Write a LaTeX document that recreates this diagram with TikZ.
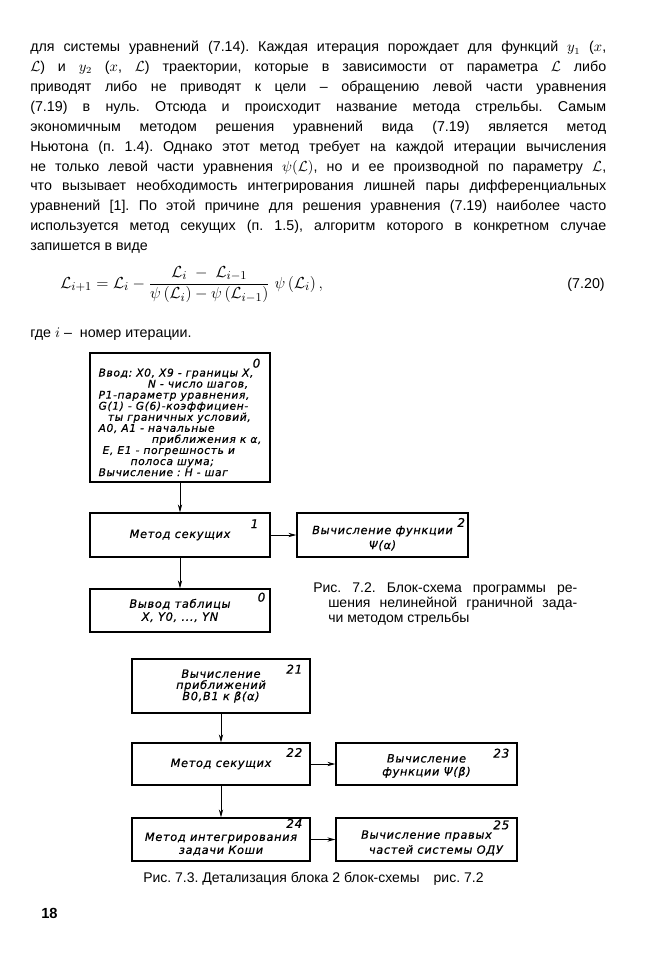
\documentclass[tikz,border=0pt]{standalone}
\usepackage{fontspec}
\usepackage{amsmath}
\setmainfont{Liberation Sans}
\newfontfamily\draftfont[LetterSpace=6, FakeBold=0.6]{DejaVu Sans}
\usetikzlibrary{arrows.meta}
\setlength\parindent{0pt}
\frenchspacing
% strut that pushes the text of a block down
\newcommand\padtop[1]{\rule{0pt}{#1}}

\begin{document}
\begin{tikzpicture}[x=0.75pt, y=-0.75pt,
    box/.style={draw, line width=0.9pt, inner sep=0pt, align=center,
                font=\draftfont\itshape\fontsize{8.5}{9.75}\selectfont},
    num/.style={anchor=north east, inner sep=0pt, xshift=-6pt, yshift=-4pt,
                font=\draftfont\itshape\fontsize{9}{9}\selectfont},
    link/.style={line width=0.7pt, -{Stealth[length=6pt, width=3.2pt]}},
    body/.style={inner sep=0pt, font=\fontsize{10.7}{14.9}\selectfont},
    figcap/.style={inner sep=0pt, font=\fontsize{10.5}{11.25}\selectfont}]
    % Page
    \path[use as bounding box, fill=white] (0,0) rectangle (650,965);

    % Text of the page
    \node[body, text width=432pt, align=justify, anchor=north west] (para) at (30,41) {%
        \hyphenpenalty=10000\exhyphenpenalty=10000
        для системы уравнений (7.14). Каждая итерация порождает для функций $y_1$ ($x$,\linebreak
        $\mathcal{L}$) и $y_2$ ($x$, $\mathcal{L}$) траектории, которые в зависимости от параметра $\mathcal{L}$ либо\linebreak
        приводят либо не приводят к цели – обращению левой части уравнения\linebreak
        (7.19) в нуль. Отсюда и происходит название метода стрельбы. Самым\linebreak
        экономичным методом решения уравнений вида (7.19) является метод\linebreak
        Ньютона (п. 1.4). Однако этот метод требует на каждой итерации вычисления\linebreak
        не только левой части уравнения $\psi(\mathcal{L})$, но и ее производной по параметру $\mathcal{L}$,\linebreak
        что вызывает необходимость интегрирования лишней пары дифференциальных\linebreak
        уравнений [1]. По этой причине для решения уравнения (7.19) наиболее часто\linebreak
        используется метод секущих (п. 1.5), алгоритм которого в конкретном случае\linebreak
        запишется в виде};

    % Formula (7.20)
    \node[inner sep=0pt, anchor=base west, font=\fontsize{12.7}{14}\selectfont] (eq) at (60,288)
        {$\displaystyle \mathcal{L}_{i+1} = \mathcal{L}_i -
          \frac{\mathcal{L}_i \;-\; \mathcal{L}_{i-1}}{\psi\,(\mathcal{L}_i) - \psi\,(\mathcal{L}_{i-1})}\;
          \psi\,(\mathcal{L}_i)\,,$};
    \node[body, anchor=base east] (eqno) at (605,288) {(7.20)};
    \node[body, anchor=base west] (where) at (30,337) {где $i$ –\; номер итерации.};

    % Fig. 7.2
    \node[box, minimum width=135pt, minimum height=96.75pt, align=left,
          font=\draftfont\itshape\fontsize{8}{8.3}\selectfont] (blk0) at (180,417.5) {%
        \padtop{13.3pt}Ввод: X0, X9 - границы X,\\
        \hspace*{37pt}N - число шагов,\\
        P1-параметр уравнения,\\
        G(1) - G(6)-коэффициен-\\
        \hspace*{7pt}ты граничных условий,\\
        A0, A1 - начальные\\
        \hspace*{40pt}приближения к α,\\
        \hspace*{3pt}E, E1 - погрешность и\\
        \hspace*{24pt}полоса шума;\\
        Вычисление : H - шаг};
    \node[num, xshift=-1.5pt, yshift=-0.5pt] (n0) at (blk0.north east) {0};

    \node[box, minimum width=135pt, minimum height=33pt] (blk1) at (180,535) {Метод секущих};
    \node[num, xshift=-3pt, yshift=-1pt] (n1) at (blk1.north east) {1};

    \node[box, minimum width=128.25pt, minimum height=33pt] (blk2) at (382.5,535)
        {\padtop{11pt}Вычисление функции\\[1.5pt]Ψ(α)};
    \node[num, xshift=3.5pt] (n2) at (blk2.north east) {2};

    \node[box, minimum width=135pt, minimum height=32.25pt] (blk3) at (180,610.5)
        {Вывод таблицы\\X, Y0, ..., YN};
    \node[num, xshift=2.25pt, yshift=1pt] (n3) at (blk3.north east) {0};

    \draw[link] (blk0.south) -- (blk1.north);
    \draw[link] (blk1.east) -- (blk2.west);
    \draw[link] (blk1.south) -- (blk3.north);

    \node[figcap, text width=198pt, align=justify, anchor=north west] (cap72) at (313,582) {%
        \hangindent=11.25pt\hangafter=1
        Рис. 7.2. Блок-схема программы ре-\linebreak
        шения нелинейной граничной зада-\linebreak
        чи методом стрельбы\par};

    % Fig. 7.3
    \node[box, minimum width=133.5pt, minimum height=40.5pt,
          font=\draftfont\itshape\fontsize{8.5}{8.4}\selectfont] (blk21) at (221,686)
        {Вычисление\\приближений\\B0,B1 к β(α)};
    \node[num, yshift=-0.5pt] (n21) at (blk21.north east) {21};

    \node[box, minimum width=133.5pt, minimum height=31.5pt] (blk22) at (221,764) {Метод секущих};
    \node[num] (n22) at (blk22.north east) {22};

    \node[box, minimum width=135.75pt, minimum height=31.5pt] (blk23) at (426.5,764)
        {\padtop{9.2pt}Вычисление\\функции Ψ(β)};
    \node[num, yshift=-0.5pt] (n23) at (blk23.north east) {23};

    \node[box, minimum width=133.5pt, minimum height=32.25pt] (blk24) at (221,839.5)
        {\padtop{13pt}Метод интегрирования\\задачи Коши};
    \node[num, yshift=3pt] (n24) at (blk24.north east) {24};

    \node[box, minimum width=135.75pt, minimum height=32.25pt] (blk25) at (426.5,839.5)
        {\padtop{11.4pt}Вычисление правых\\[1.5pt]\hspace*{14pt}частей системы ОДУ};
    \node[num, yshift=2pt] (n25) at (blk25.north east) {25};

    \draw[link] (blk21.south) -- (blk22.north);
    \draw[link] (blk22.east) -- (blk23.west);
    \draw[link] (blk22.south) -- (blk24.north);
    \draw[link] (blk24.east) -- (blk25.west);

    \node[figcap, anchor=base west] (cap73) at (143,882)
        {Рис. 7.3. Детализация блока 2 блок-схемы\quad рис. 7.2};

    % Page number
    \node[inner sep=0pt, anchor=base west, font=\bfseries\fontsize{11}{13}\selectfont] (pgno) at (41,918) {18};
\end{tikzpicture}
\end{document}
